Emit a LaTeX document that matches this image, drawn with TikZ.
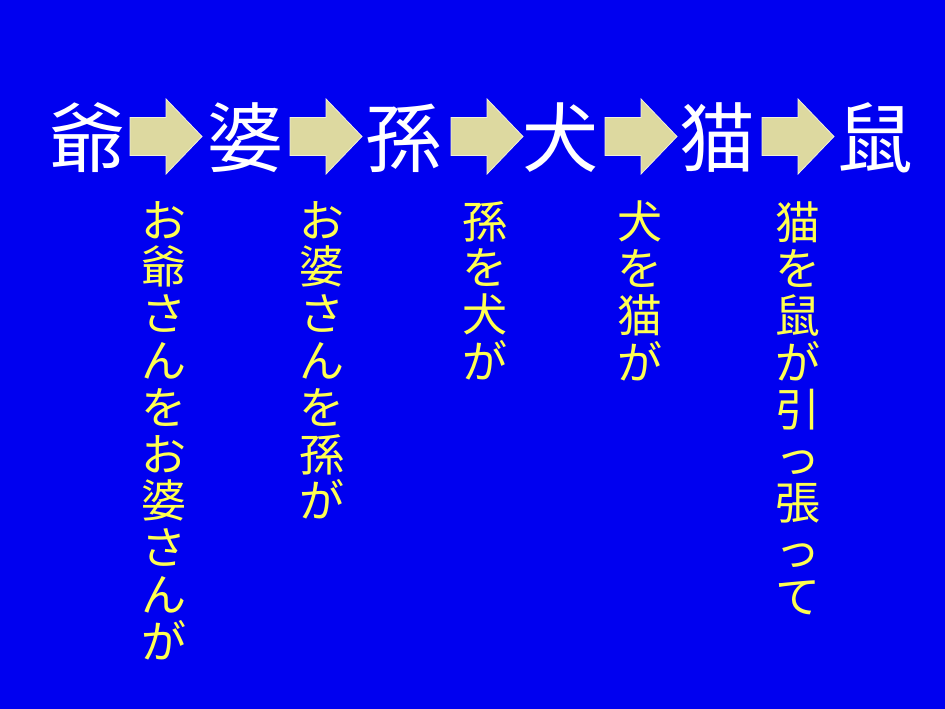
\documentclass[tikz,border=0pt]{standalone}
\usepackage{fontspec}
\setmainfont{Noto Sans CJK JP}
\definecolor{bg}{RGB}{0,0,240}
\definecolor{khaki}{RGB}{221,217,160}
\definecolor{yel}{RGB}{255,255,80}
\newcommand\blockarr[1]{%
  \draw[blockarrow] (#1) ++(0,-19) -- ++(36,0) -- ++(0,-18.5) -- ++(36,37.5) -- ++(-36,37.5) -- ++(0,-18.5) -- ++(-36,0) -- cycle;}
\begin{document}
\begin{tikzpicture}[x=1pt,y=-1pt,
  big/.style={text=white,font=\fontsize{76}{76}\selectfont,inner sep=0pt},
  vcol/.style={text=yel,font=\fontsize{45}{46.8}\selectfont,inner sep=0pt,align=center,anchor=north},
  blockarrow/.style={fill=khaki,draw=white!60!khaki,line width=0.8pt,line join=miter}]
\fill[bg] (0,0) rectangle (945,709);
\useasboundingbox (0,0) rectangle (945,709);
\node[big] (c1) at (87,138) {爺};
\node[big] (c2) at (245,138) {婆};
\node[big] (c3) at (403,138) {孫};
\node[big] (c4) at (560,138) {犬};
\node[big] (c5) at (717,138) {猫};
\node[big] (c6) at (875,138) {鼠};
\coordinate (a1) at (130,136.5);
\coordinate (a2) at (290,136.5);
\coordinate (a3) at (451,136.5);
\coordinate (a4) at (605,136.5);
\coordinate (a5) at (762,136.5);
\blockarr{a1}
\blockarr{a2}
\blockarr{a3}
\blockarr{a4}
\blockarr{a5}
\node[vcol] (t1) at (164,201) {お\\爺\\さ\\ん\\を\\お\\婆\\さ\\ん\\が};
\node[vcol] (t2) at (322,201) {お\\婆\\さ\\ん\\を\\孫\\が};
\node[vcol] (t3) at (485,201) {孫\\を\\犬\\が};
\node[vcol] (t4) at (640,201) {犬\\を\\猫\\が};
\node[vcol] (t5) at (798,201) {猫\\を\\鼠\\が\\引\\っ\\張\\っ\\て};
\end{tikzpicture}
\end{document}
